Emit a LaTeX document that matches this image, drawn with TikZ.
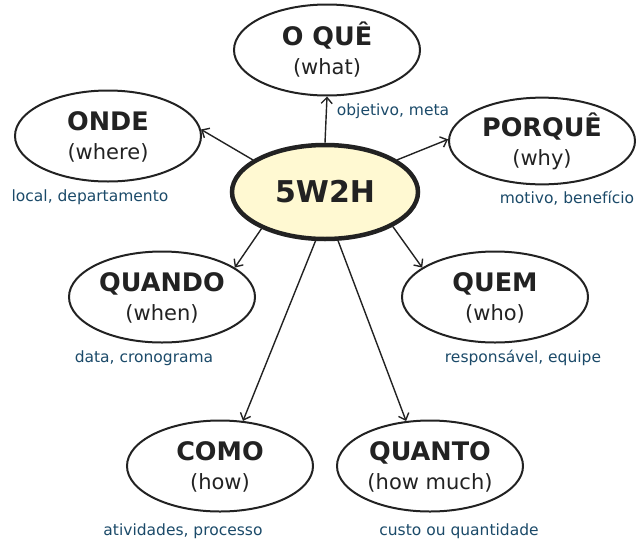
\documentclass[tikz,border=0pt]{standalone}
\usepackage{fontspec}
\setmainfont{DejaVu Sans}
\usetikzlibrary{shapes.geometric,arrows.meta}
\definecolor{ink}{HTML}{222222}
\definecolor{lbl}{HTML}{1B4A69}
\definecolor{hub}{HTML}{FFF9D2}
\tikzset{
  item/.style={ellipse,draw=ink,line width=2pt,minimum width=186pt,minimum height=91pt,inner sep=0pt,text=ink,font=\fontsize{21}{29}\selectfont},
  center/.style={ellipse,draw=ink,line width=4.5pt,fill=hub,minimum width=186pt,minimum height=94pt,inner sep=0pt,text=ink,font=\fontsize{30}{36}\selectfont\bfseries},
  note/.style={text=lbl,font=\fontsize{15.5}{18}\selectfont,inner sep=0pt},
  link/.style={draw=ink,line width=1.4pt,-{Straight Barb[length=6pt,width=11pt,line width=1.4pt]}}
}
\newcommand{\twol}[2]{\raisebox{-3pt}[\height][\depth]{\begin{tabular}{@{}c@{}}{\fontsize{25.5}{29}\selectfont\bfseries #1}\\#2\end{tabular}}}
\begin{document}
\begin{tikzpicture}[x=1pt,y=-1pt]
\useasboundingbox (0,0) rectangle (636,541);
\node[center] (c) at (325,192) {5W2H};
\node[item] (oque) at (327,50) {\twol{O QUÊ}{(what)}};
\node[item] (onde) at (108,136) {\twol{ONDE}{(where)}};
\node[item,minimum height=86pt] (porque) at (542,141) {\twol{PORQUÊ}{(why)}};
\node[item] (quando) at (162,297) {\twol{QUANDO}{(when)}};
\node[item] (quem) at (495,297) {\twol{QUEM}{(who)}};
\node[item] (como) at (220,466) {\twol{COMO}{(how)}};
\node[item] (quanto) at (430,466) {\twol{QUANTO}{(how much)}};

\node[note] (n1) at (393,111) {objetivo, meta};
\node[note] (n2) at (90,197) {local, departamento};
\node[note] (n3) at (567,198) {motivo, benefício};
\node[note] (n4) at (144,358) {data, cronograma};
\node[note] (n5) at (523,358) {responsável, equipe};
\node[note] (n6) at (183,531) {atividades, processo};
\node[note] (n7) at (459,531) {custo ou quantidade};

\draw[link] (c.90) -- (oque.270);
\draw[link] (c.156) -- (onde.4);
\draw[link] (c.24) -- (porque.179);
\draw[link] (c.210) -- (quando.22);
\draw[link] (c.333) -- (quem.158);
\draw[link] (c.259) -- (como.63);
\draw[link] (c.285) -- (quanto.118);
\end{tikzpicture}
\end{document}
